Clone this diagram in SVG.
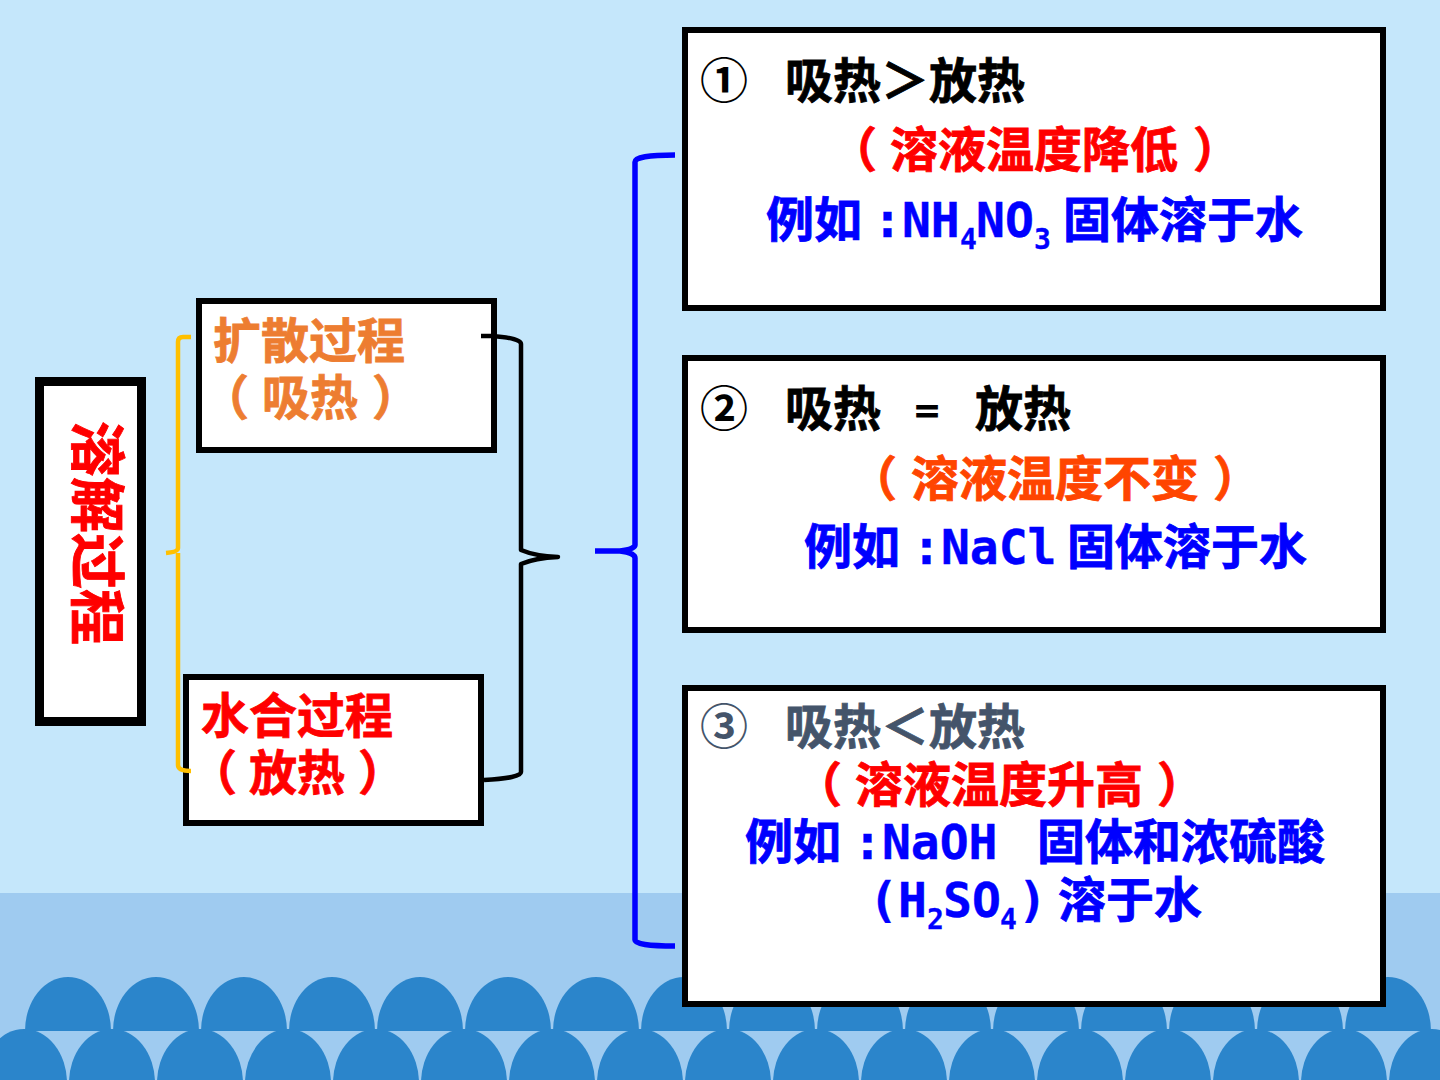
<svg xmlns="http://www.w3.org/2000/svg" width="1440" height="1080" viewBox="0 0 1440 1080">
<style>
.box{fill:#fff;stroke:#000;stroke-width:6}
.t{font-family:"Noto Sans CJK SC","DejaVu Sans Mono",sans-serif;font-weight:700;font-size:48px;stroke-width:.8px}
.m{font-family:"DejaVu Sans Mono","Noto Sans CJK SC",monospace;font-weight:700;font-size:48px;stroke-width:.4px}
.s{font-family:"DejaVu Sans Mono",monospace;font-weight:700;font-size:28px;stroke-width:.3px}
.n{font-family:"DejaVu Sans Mono",monospace;font-weight:400;font-size:40px}
.c{stroke-width:0}
.red{fill:#f00;stroke:#f00}.blue{fill:#00f;stroke:#00f}.k{fill:#000;stroke:#000}.org{fill:#ed7d31;stroke:#ed7d31}.slate{fill:#44546a;stroke:#44546a}.orr{fill:#ff4500;stroke:#ff4500}
.brace{fill:none;stroke-linecap:butt;stroke-linejoin:round}
</style>
<defs>
<path id="scallop" d="M0 54A43 54 0 0 1 86 54Z" fill="#2b85cb"/>
</defs>
<rect width="1440" height="1080" fill="#c5e7fb"/>
<rect y="893" width="1440" height="187" fill="#9fcbf0"/>
<g id="waves">
<use href="#scallop" x="25" y="977"/><use href="#scallop" x="113" y="977"/><use href="#scallop" x="201" y="977"/><use href="#scallop" x="289" y="977"/><use href="#scallop" x="377" y="977"/><use href="#scallop" x="465" y="977"/><use href="#scallop" x="553" y="977"/><use href="#scallop" x="641" y="977"/><use href="#scallop" x="729" y="977"/><use href="#scallop" x="817" y="977"/><use href="#scallop" x="905" y="977"/><use href="#scallop" x="993" y="977"/><use href="#scallop" x="1081" y="977"/><use href="#scallop" x="1169" y="977"/><use href="#scallop" x="1257" y="977"/><use href="#scallop" x="1345" y="977"/>
<use href="#scallop" x="-19" y="1029"/><use href="#scallop" x="69" y="1029"/><use href="#scallop" x="157" y="1029"/><use href="#scallop" x="245" y="1029"/><use href="#scallop" x="333" y="1029"/><use href="#scallop" x="421" y="1029"/><use href="#scallop" x="509" y="1029"/><use href="#scallop" x="597" y="1029"/><use href="#scallop" x="685" y="1029"/><use href="#scallop" x="773" y="1029"/><use href="#scallop" x="861" y="1029"/><use href="#scallop" x="949" y="1029"/><use href="#scallop" x="1037" y="1029"/><use href="#scallop" x="1125" y="1029"/><use href="#scallop" x="1213" y="1029"/><use href="#scallop" x="1301" y="1029"/><use href="#scallop" x="1389" y="1029"/>
<rect x="25" y="1029" width="1407" height="2" fill="#2b85cb"/>
</g>
<g id="process"><rect x="39.500" y="381.500" width="102" height="340" fill="#fff" stroke="#000" stroke-width="9"/>
<text class="t red" transform="translate(77 421) rotate(90)" style="font-size:56px">溶解过程</text></g>
<g id="diffusion"><rect class="box" x="199" y="301" width="295" height="149"/>
<text class="t org" x="213" y="358">扩散过程</text><text class="t org" x="201" y="415">（</text><text class="t org" x="262" y="415">吸热</text><text class="t org" x="372" y="415">）</text></g>
<g id="hydration"><rect class="box" x="186" y="677" width="295" height="146"/>
<text class="t red" x="201" y="733">水合过程</text><text class="t red" x="189" y="790">（</text><text class="t red" x="249" y="790">放热</text><text class="t red" x="358" y="790">）</text></g>
<g id="case1"><rect class="box" x="685" y="30" width="698" height="278"/>
<text class="t k c" x="700" y="98">①</text><text class="t k" x="785" y="98">吸热＞放热</text>
<text class="t red" x="829" y="167">（</text><text class="t red" x="890" y="167">溶液温度降低</text><text class="t red" x="1193" y="167">）</text>
<text class="t blue" x="766" y="237">例如</text><text class="m blue" x="873" y="237">:NH</text><text class="s blue" x="960" y="249">4</text><text class="m blue" x="976" y="237">NO</text><text class="s blue" x="1034" y="249">3</text><text class="t blue" x="1063" y="237">固体溶于水</text></g>
<g id="case2"><rect class="box" x="685" y="358" width="698" height="272"/>
<text class="t k c" x="700" y="426">②</text><text class="t k" x="785" y="426">吸热</text><text class="n k" x="915" y="424">=</text><text class="t k" x="975" y="426">放热</text>
<text class="t orr" x="849" y="496">（</text><text class="t orr" x="911" y="496">溶液温度不变</text><text class="t orr" x="1213" y="496">）</text>
<text class="t blue" x="804" y="564">例如</text><text class="m blue" x="912" y="564">:NaCl</text><text class="t blue" x="1067" y="564">固体溶于水</text></g>
<g id="case3"><rect class="box" x="685" y="688" width="698" height="316"/>
<text class="t slate c" x="700" y="744">③</text><text class="t slate" x="785" y="744">吸热＜放热</text>
<text class="t red" x="794" y="802">（</text><text class="t red" x="855" y="802">溶液温度升高</text><text class="t red" x="1157" y="802">）</text>
<text class="t blue" x="745" y="859">例如</text><text class="m blue" x="853" y="859">:NaOH</text><text class="t blue" x="1037" y="859">固体和浓硫酸</text>
<text class="m blue" x="869" y="917">(H</text><text class="s blue" x="927" y="929">2</text><text class="m blue" x="943" y="917">SO</text><text class="s blue" x="1000" y="929">4</text><text class="m blue" x="1018" y="917">)</text><text class="t blue" x="1058" y="917">溶于水</text></g>
<g id="connectors">
<path class="brace" stroke="#ffc000" stroke-width="4.500" d="M191 337H183Q178 337 178 342V548Q178 552 166 553M178 553V765Q178 771 191 771"/>
<path class="brace" stroke="#000" stroke-width="4.500" d="M481 336H492Q521 338 521 344V550Q535 556 558 557Q535 558 521 564V772Q521 778 484 780"/>
<path class="brace" stroke="#00f" stroke-width="5.500" d="M675 155Q635 155 635 162V545Q635 549 620 551H595M620 551Q635 553 635 558V940Q635 946 675 946"/>
</g>
</svg>
